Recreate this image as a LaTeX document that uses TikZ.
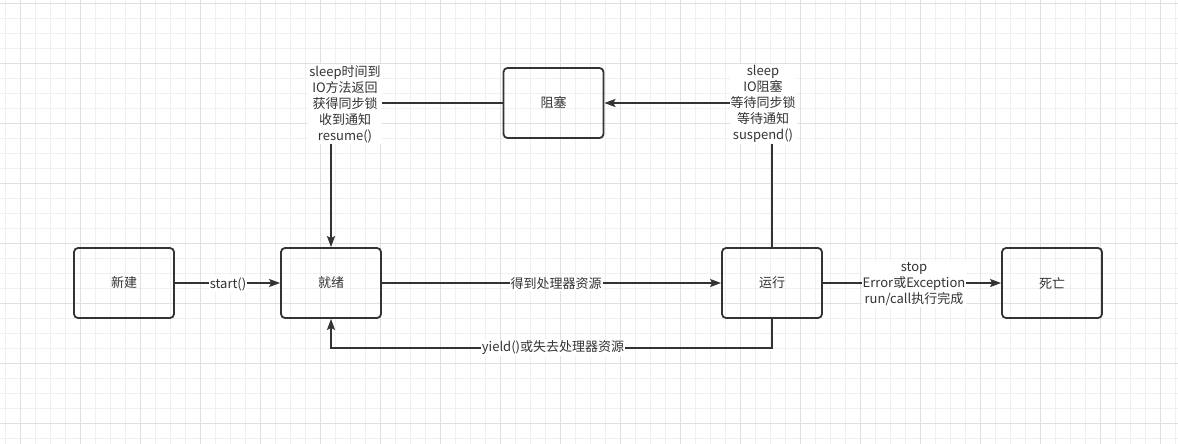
\documentclass[tikz,border=0pt]{standalone}
\usepackage{fontspec}
\setmainfont{Noto Sans CJK SC}
\usetikzlibrary{arrows.meta}
\definecolor{ink}{HTML}{333333}
\definecolor{gridminor}{HTML}{F0F0F0}
\definecolor{gridmajor}{HTML}{E0E0E0}
\tikzset{
  statebox/.style={draw=ink, line width=1.8pt, rounded corners=4pt, minimum width=100pt, minimum height=70pt, inner sep=0pt, text=ink, font=\fontsize{13}{16}\selectfont},
  conn/.style={draw=ink, line width=1.7pt, -{Stealth[length=11pt,width=8pt,inset=2pt]}},
  elabel/.style={fill=white, text=ink, inner sep=1pt, align=center, font=\fontsize{13}{16}\selectfont}
}
\begin{document}
\begin{tikzpicture}[x=1pt, y=-1pt]
\useasboundingbox (0,0) rectangle (1178,444);
\fill[white] (0,0) rectangle (1178,444);
% grid
\foreach \i in {0,...,78} {
  \pgfmathsetmacro{\xx}{5+15*\i}
  \draw[gridminor, line width=1pt] (\xx,0) -- (\xx,444);
}
\foreach \i in {0,...,29} {
  \pgfmathsetmacro{\yy}{3.33+15*\i}
  \draw[gridminor, line width=1pt] (0,\yy) -- (1178,\yy);
}
\foreach \i in {0,...,19} {
  \pgfmathsetmacro{\xx}{20+60*\i}
  \draw[gridmajor, line width=1pt] (\xx,0) -- (\xx,444);
}
\foreach \i in {0,...,7} {
  \pgfmathsetmacro{\yy}{3.33+60*\i}
  \draw[gridmajor, line width=1pt] (0,\yy) -- (1178,\yy);
}
% states
\node[statebox] (new) at (124,283) {新建};
\node[statebox] (ready) at (331,283) {就绪};
\node[statebox] (run) at (772,283) {运行};
\node[statebox] (dead) at (1052,283) {死亡};
\node[statebox] (block) at (553.5,103) {阻塞};
% corner coordinates
\coordinate (c1) at (772,103);
\coordinate (c2) at (331,103);
\coordinate (c3) at (772,348);
\coordinate (c4) at (331,348);
% edges
\draw[conn] (new.east) -- (ready.west);
\draw[conn] (ready.east) -- (run.west);
\draw[conn] (run.east) -- (dead.west);
\draw[conn] (run.north) -- (c1) -- (block.east);
\draw[conn] (block.west) -- (c2) -- (ready.north);
\draw[conn] (run.south) -- (c3) -- (c4) -- (ready.south);
% labels
\node[elabel] (lstart) at (228,284) {start()};
\node[elabel] (lres) at (556,284) {得到处理器资源};
\node[elabel] (ldead) at (914,284) {stop\\Error或Exception\\run/call执行完成};
\node[elabel] (lyield) at (553,348) {yield()或失去处理器资源};
\node[elabel] (lwake) at (345,104) {sleep时间到\\IO方法返回\\获得同步锁\\收到通知\\resume()};
\node[elabel] (lblock) at (763,104) {sleep\\IO阻塞\\等待同步锁\\等待通知\\suspend()};
\end{tikzpicture}
\end{document}
